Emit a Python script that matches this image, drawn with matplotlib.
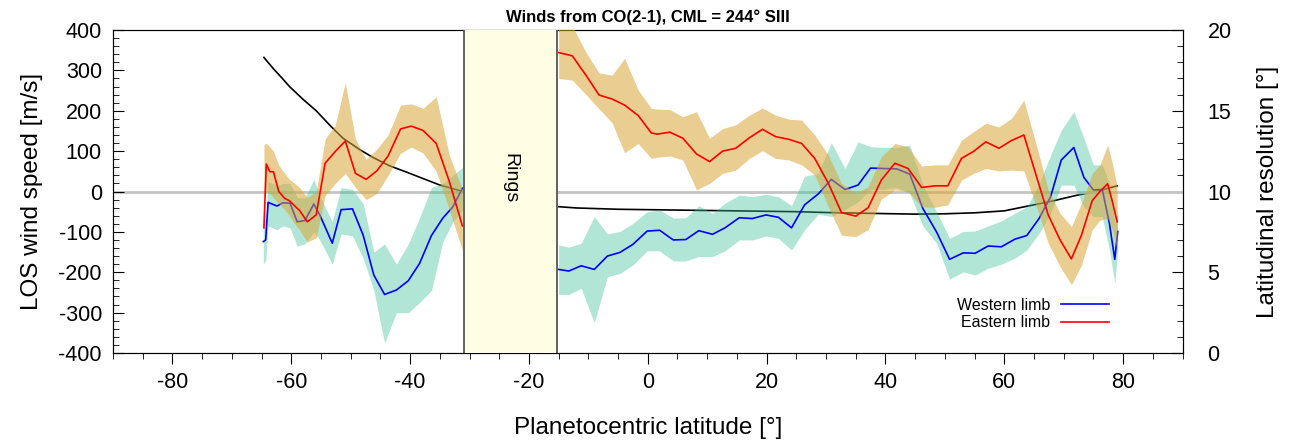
import numpy as np
import matplotlib
matplotlib.use("Agg")
import matplotlib.pyplot as plt

plt.rcParams['font.family'] = ['Liberation Sans', 'DejaVu Sans']
plt.rcParams['axes.unicode_minus'] = False

# western limb, south of the rings
west_lat_s = [-64.7, -64.3, -63.9, -62.4, -61.4, -60.2, -59.0, -57.7, -56.2, -55.2, -53.1, -51.6,
              -49.7, -47.9, -46.1, -44.3, -42.3, -40.3, -38.4, -36.4, -34.5, -32.8, -31.2]
west_v_s = [-124, -120, -27, -36, -28, -29, -75, -72, -31, -58, -128, -45,
            -43, -108, -207, -255, -244, -221, -178, -109, -66, -38, 8]
west_lo_s = [-180, -170, -85, -95, -85, -90, -135, -130, -100, -120, -180, -105,
             -110, -165, -245, -375, -300, -300, -275, -245, -125, -75, -45]
west_hi_s = [-70, -70, 25, 15, 20, 20, -15, -15, 30, -10, -75, 10,
             5, -30, -150, -130, -180, -130, -65, 10, 20, 40, 60]

# eastern limb, south of the rings
east_lat_s = [-64.6, -64.2, -63.6, -63.0, -62.1, -61.1, -60.3, -59.4, -58.6, -57.3, -55.8, -54.3,
              -52.6, -50.9, -49.2, -47.4, -45.6, -43.7, -41.6, -39.8, -37.8, -35.6, -33.4, -31.2]
east_v_s = [-90, 68, 49, 49, 0, -17, -23, -36, -47, -75, -58, 70,
            99, 125, 45, 30, 51, 88, 155, 162, 151, 119, 25, -85]
east_lo_s = [-10, 0, -5, -15, -30, -45, -60, -80, -95, -125, -115, -10,
             20, 45, 10, -20, -5, 40, 95, 110, 95, 50, -45, -145]
east_hi_s = [115, 120, 110, 100, 65, 45, 30, 20, 10, -15, 0, 130,
             165, 270, 130, 80, 105, 140, 214, 217, 206, 235, 90, 5]

# western limb, north of the rings
west_lat_n = [-15.0, -13.3, -11.2, -9.0, -6.8, -4.7, -2.5, -0.1, 2.0, 4.3, 6.4, 8.6,
              10.9, 13.0, 15.4, 17.6, 19.9, 22.0, 24.2, 26.4, 28.7, 30.9, 33.2, 35.4,
              37.5, 39.6, 41.9, 44.1, 46.3, 48.6, 50.8, 53.1, 55.1, 57.3, 59.5, 61.8,
              63.8, 65.9, 67.8, 69.6, 71.7, 73.4, 75.0, 76.5, 77.7, 78.6, 79.1]
west_v_n = [-193, -197, -184, -193, -160, -151, -131, -98, -96, -120, -119, -97,
            -106, -90, -65, -67, -58, -64, -90, -33, -6, 30, 5, 16,
            58, 57, 56, 43, -42, -100, -168, -152, -153, -135, -137, -118,
            -109, -66, -13, 78, 109, 35, 4, 5, -79, -168, -99]
west_lo_n = [-255, -255, -240, -325, -211, -203, -182, -147, -147, -172, -172, -161,
             -161, -147, -120, -120, -110, -116, -145, -95, -56, -62, -45, -25,
             5, 5, 10, -5, -85, -128, -217, -199, -207, -190, -180, -165,
             -145, -103, -54, 16, 16, -38, -62, -62, -145, -227, -145]
west_hi_n = [-132, -138, -128, -62, -105, -99, -79, -50, -46, -66, -65, -35,
             -54, -29, -9, -13, -7, -13, -35, 38, 45, 121, 57, 123,
             111, 109, 109, 115, 16, -50, -116, -99, -98, -85, -73, -54,
             -38, 20, 90, 152, 198, 132, 66, 66, 20, -79, -46]

# eastern limb, north of the rings
east_lat_n = [-15.0, -12.7, -10.4, -8.2, -6.0, -3.9, -1.6, 0.6, 1.6, 3.7, 5.9, 8.2,
              10.4, 12.6, 14.8, 17.1, 19.3, 21.5, 23.8, 25.9, 28.1, 30.4, 32.6, 35.0,
              37.1, 39.3, 41.6, 43.8, 46.1, 48.3, 50.5, 52.8, 54.8, 56.9, 59.1, 61.2,
              63.3, 65.7, 67.4, 69.4, 71.3, 73.0, 74.8, 76.1, 77.4, 78.2, 79.0]
east_v_n = [344, 336, 288, 239, 229, 214, 188, 145, 142, 147, 132, 93,
            74, 100, 107, 133, 154, 136, 129, 119, 82, 20, -52, -61,
            -40, 28, 70, 57, 10, 14, 14, 82, 99, 123, 107, 126,
            140, 24, -58, -120, -167, -108, -23, 0, 19, -25, -75]
east_lo_n = [280, 276, 240, 205, 170, 96, 119, 82, 85, 88, 78, 4,
             20, 45, 53, 82, 101, 82, 78, 66, 41, -38, -108, -112,
             -94, -19, 4, 0, -38, -39, -33, 28, 45, 57, 51, 53,
             51, -50, -128, -186, -231, -182, -95, -71, -66, -95, -145]
east_hi_n = [430, 410, 345, 294, 288, 330, 251, 206, 204, 203, 185, 198,
             132, 156, 165, 189, 207, 189, 179, 177, 140, 90, 20, -4,
             12, 86, 119, 111, 63, 66, 66, 127, 148, 169, 160, 181,
             226, 99, 4, -54, -87, -29, 45, 66, 115, 70, 12]

# latitudinal resolution (right axis)
res_lat_s = [-64.6, -63.0, -61.5, -60.3, -58.0, -55.8, -53.5, -51.3, -48.5, -46.2, -43.5,
             -40.6, -37.8, -35.0, -33.0, -31.2]
res_s = [18.3, 17.6, 17.0, 16.5, 15.7, 15.0, 14.1, 13.3, 12.6, 12.1, 11.6,
         11.2, 10.8, 10.4, 10.2, 10.0]
res_lat_n = [-15, -12, -5, 5, 15, 25, 30, 40, 45, 50, 55, 60, 64, 68, 72, 76, 79]
res_n = [9.06, 8.98, 8.9, 8.85, 8.8, 8.75, 8.7, 8.63, 8.6, 8.62, 8.68, 8.8, 9.1, 9.4, 9.75, 10.05, 10.35]

rings_lat = [-31.0, -15.3]

orange = '#D9A638'
green = '#3CC09A'

fig = plt.figure(figsize=(12.9, 4.43), dpi=100)
ax = fig.add_axes([113 / 1290, 1 - 353 / 443, 1069.5 / 1290, 323 / 443])
ax2 = ax.twinx()

ax.axhline(0, color='#c4c4c4', lw=2, zorder=1)

for lat, lo, hi, v in [(west_lat_s, west_lo_s, west_hi_s, west_v_s),
                       (west_lat_n, west_lo_n, west_hi_n, west_v_n)]:
    ax.fill_between(lat, lo, hi, color=green, alpha=0.4, lw=0, zorder=2)
    ax.plot(lat, v, color='#0000ff', lw=1.2, zorder=3)

for lat, lo, hi in [(east_lat_s, east_lo_s, east_hi_s), (east_lat_n, east_lo_n, east_hi_n)]:
    ax.fill_between(lat, lo, hi, color=orange, alpha=0.55, lw=0, zorder=5)
for lat, v in [(east_lat_s, east_v_s), (east_lat_n, east_v_n)]:
    ax.plot(lat, v, color='#ff0000', lw=1.2, zorder=6)

# legend handles drawn off-axis
ax.plot([], [], color='#0000ff', lw=1.2, label='Western limb')
ax.plot([], [], color='#ff0000', lw=1.2, label='Eastern limb')

# resolution curve sits under the orange band
ax2.plot(res_lat_s, res_s, color='black', lw=1.2)
ax2.plot(res_lat_n, res_n, color='black', lw=1.2)
ax2.set_zorder(ax.get_zorder() - 1)
ax.patch.set_visible(False)
ax2.patch.set_visible(True)

# rings box
ax.axvspan(rings_lat[0], rings_lat[1], facecolor='#fffde3', edgecolor='none', zorder=8)
for x in rings_lat:
    ax.axvline(x, color='#555555', lw=1.3, zorder=9)
ax.text(np.mean(rings_lat), 33, 'Rings', rotation=-90, ha='center', va='center',
        fontsize=14, zorder=10)

ax.set_xlim(-90, 90)
ax.set_ylim(-400, 400)
ax2.set_ylim(0, 20)
ax.set_xticks(np.arange(-80, 81, 20))
ax.set_xticks(np.arange(-90, 91, 5), minor=True)
ax.set_yticks(np.arange(-400, 401, 100))
ax.set_yticks(np.arange(-400, 401, 20), minor=True)
ax2.set_yticks(np.arange(0, 21, 5))
ax2.set_yticks(np.arange(0, 21, 1), minor=True)

ax.tick_params(axis='x', which='both', direction='out', labelsize=15.5, pad=6)
ax.tick_params(axis='x', which='major', length=8)
ax.tick_params(axis='x', which='minor', length=4)
ax.tick_params(axis='y', which='both', direction='in', labelsize=15.5, pad=8)
ax.tick_params(axis='y', which='major', length=8)
ax.tick_params(axis='y', which='minor', length=4)
ax2.tick_params(axis='y', which='both', direction='in', labelsize=15.5, pad=18)
ax2.tick_params(axis='y', which='major', length=8)
ax2.tick_params(axis='y', which='minor', length=4)

ax.set_xlabel('Planetocentric latitude [°]', fontsize=17.5, labelpad=17)
ax.set_ylabel('LOS wind speed [m/s]', fontsize=17.5, labelpad=11)
ax2.set_ylabel('Latitudinal resolution [°]', fontsize=17.5, labelpad=18)
ax.set_title('Winds from CO(2-1), CML = 244° SIII', fontsize=12, fontweight='bold', pad=6)

ax.legend(loc='upper right', bbox_to_anchor=(1117 / 1290, 1 - 290 / 443),
          bbox_transform=fig.transFigure, frameon=False, markerfirst=False,
          fontsize=11.5, handlelength=3.0, labelspacing=0.15, borderpad=0, handletextpad=0.7)

fig.savefig('out.png', dpi=100)
